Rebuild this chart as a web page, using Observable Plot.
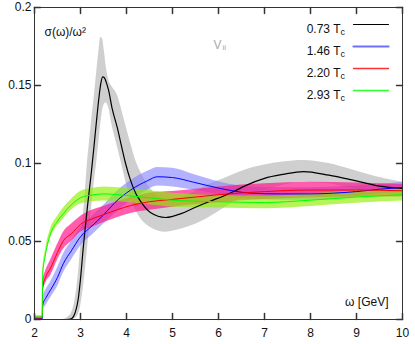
<!DOCTYPE html>
<html><head><meta charset="utf-8">
<script src="https://cdn.jsdelivr.net/npm/d3@7"></script>
<script src="https://cdn.jsdelivr.net/npm/@observablehq/plot@0.6"></script>
<style>
body{margin:0;background:#fff;}
#chart svg{display:block;font-family:"Liberation Sans",Arial,sans-serif;}
</style></head><body><div id="chart"></div>
<script>
// ---- tick values ----
const xTicks = [2, 3, 4, 5, 6, 7, 8, 9, 10];
const yTicks = [0, 0.05, 0.1, 0.15, 0.2];
const yTickLabels = ["0", "0.05", "0.1", "0.15", "0.2"];

// ---- series ----
const seriesNames = ["0.73", "1.46", "2.20", "2.93"];

// 0.73 Tc (black, gray band)
const x0 = [2.0, 2.6, 2.7, 2.8, 2.85, 2.9, 2.95, 3.0, 3.06, 3.1, 3.15, 3.2, 3.24, 3.3, 3.35, 3.4, 3.44, 3.48, 3.52, 3.56, 3.61, 3.69, 3.8, 3.9, 3.98, 4.09, 4.2, 4.3, 4.52, 4.85, 5.2, 5.5, 5.83, 6.1, 6.33, 6.6, 7.0, 7.4, 7.85, 8.4, 8.9, 9.5, 10];
const y0 = [0, 0, 0, 0.0005, 0.002, 0.006, 0.013, 0.026, 0.046, 0.058, 0.072, 0.085, 0.0955, 0.113, 0.128, 0.142, 0.151, 0.1555, 0.155, 0.152, 0.147, 0.135, 0.123, 0.110, 0.100, 0.089, 0.081, 0.076, 0.0686, 0.0654, 0.068, 0.072, 0.076, 0.079, 0.082, 0.086, 0.0905, 0.093, 0.0948, 0.0925, 0.0895, 0.0855, 0.084];
const hi0 = [0, 0, 0.001, 0.004, 0.008, 0.016, 0.028, 0.045, 0.066, 0.08, 0.1, 0.115, 0.127, 0.143, 0.158, 0.172, 0.181, 0.18, 0.172, 0.162, 0.154, 0.149, 0.144, 0.134, 0.125, 0.113, 0.102, 0.095, 0.084, 0.077, 0.078, 0.082, 0.087, 0.09, 0.093, 0.096, 0.099, 0.101, 0.102, 0.1, 0.096, 0.091, 0.088];
const lo0 = [0, 0, 0, 0, 0.0003, 0.001, 0.003, 0.008, 0.02, 0.03, 0.045, 0.06, 0.071, 0.088, 0.1, 0.114, 0.125, 0.134, 0.138, 0.139, 0.136, 0.124, 0.111, 0.099, 0.089, 0.078, 0.07, 0.065, 0.059, 0.056, 0.058, 0.061, 0.066, 0.071, 0.075, 0.079, 0.083, 0.086, 0.088, 0.087, 0.084, 0.081, 0.081];

// 1.46 Tc (blue)
const x1 = [2.0, 2.17, 2.175, 2.25, 2.35, 2.5, 2.63, 2.8, 3.0, 3.25, 3.5, 3.75, 4.09, 4.46, 4.67, 5.0, 5.46, 6.04, 6.7, 7.35, 8.0, 8.5, 9.0, 9.5, 10];
const y1 = [0.0005, 0.0005, 0.009, 0.014, 0.019, 0.027, 0.036, 0.044, 0.053, 0.060, 0.067, 0.075, 0.083, 0.089, 0.0915, 0.091, 0.088, 0.084, 0.081, 0.0805, 0.0805, 0.081, 0.082, 0.0835, 0.0846];
const hi1 = [0.0015, 0.0015, 0.013, 0.019, 0.024, 0.033, 0.042, 0.05, 0.059, 0.066, 0.073, 0.081, 0.089, 0.095, 0.0975, 0.097, 0.093, 0.088, 0.085, 0.0845, 0.0845, 0.085, 0.0855, 0.0865, 0.088];
const lo1 = [0, 0, 0.005, 0.009, 0.014, 0.021, 0.03, 0.038, 0.047, 0.054, 0.061, 0.068, 0.076, 0.083, 0.0855, 0.085, 0.083, 0.08, 0.077, 0.0765, 0.0765, 0.077, 0.0785, 0.0805, 0.0815];

// 2.20 Tc (red)
const x2 = [2.0, 2.17, 2.175, 2.24, 2.35, 2.5, 2.63, 2.8, 3.0, 3.25, 3.5, 4.09, 4.5, 5.0, 5.5, 6.0, 7.0, 8.0, 9.0, 10];
const y2 = [0.001, 0.001, 0.02, 0.027, 0.033, 0.043, 0.0506, 0.055, 0.061, 0.0645, 0.0672, 0.073, 0.0755, 0.077, 0.0785, 0.080, 0.082, 0.083, 0.083, 0.0825];
const hi2 = [0.002, 0.002, 0.024, 0.031, 0.038, 0.048, 0.056, 0.061, 0.066, 0.07, 0.0725, 0.078, 0.081, 0.082, 0.0835, 0.085, 0.087, 0.088, 0.0875, 0.0865];
const lo2 = [0, 0, 0.016, 0.023, 0.028, 0.038, 0.045, 0.05, 0.056, 0.059, 0.062, 0.068, 0.070, 0.072, 0.0735, 0.075, 0.077, 0.078, 0.0785, 0.0785];

// 2.93 Tc (green)
const x3 = [2.0, 2.17, 2.175, 2.24, 2.35, 2.5, 2.63, 2.8, 3.0, 3.25, 3.5, 4.0, 4.5, 5.0, 6.0, 7.0, 8.0, 9.0, 10];
const y3 = [0.0015, 0.0015, 0.028, 0.042, 0.055, 0.063, 0.068, 0.0735, 0.078, 0.0798, 0.0805, 0.0795, 0.078, 0.0765, 0.0755, 0.075, 0.0765, 0.0785, 0.080];
const hi3 = [0.0025, 0.0025, 0.031, 0.045, 0.058, 0.066, 0.0715, 0.077, 0.082, 0.084, 0.085, 0.084, 0.0825, 0.081, 0.0795, 0.079, 0.0805, 0.0825, 0.084];
const lo3 = [0.0005, 0.0005, 0.025, 0.039, 0.052, 0.06, 0.0645, 0.07, 0.074, 0.0755, 0.076, 0.075, 0.0735, 0.072, 0.0715, 0.071, 0.0725, 0.0745, 0.076];

// ---- styles ----
const lineColors = ["#000000", "#0000ff", "#ff0000", "#00ff00"];
const bandColors = ["#cfcfcf", "#7f7fff", "#ff1a8c", "#8ef000"];
const bandOpacity = [1, 0.6, 0.7, 0.65];
const legendColors = ["#000000", "#7070ff", "#ff3030", "#30ff30"];
const legendWidths = [1.2, 2.2, 1.3, 1.3];

const toRows = (xs, ys, los, his) => xs.map((x, i) => ({x, y: ys[i], lo: los[i], hi: his[i]}));
const series = [
  toRows(x0, y0, lo0, hi0),
  toRows(x1, y1, lo1, hi1),
  toRows(x2, y2, lo2, hi2),
  toRows(x3, y3, lo3, hi3)
];

const font = "Liberation Sans, Arial, sans-serif";
const segShape = {draw(ctx, l) { ctx.moveTo(0, 0); ctx.lineTo(0, -l); }};
const axisColor = "#333";

const marks = [];
series.forEach((rows, i) => {
  marks.push(Plot.areaY(rows, {x: "x", y1: "lo", y2: "hi", fill: bandColors[i], fillOpacity: bandOpacity[i], curve: "monotone-x"}));
});
series.forEach((rows, i) => {
  marks.push(Plot.lineY(rows, {x: "x", y: "y", stroke: lineColors[i], strokeWidth: i === 0 ? 1.2 : 1, curve: "monotone-x"}));
});

// frame & axes
marks.push(Plot.frame({stroke: axisColor, strokeWidth: 1}));
marks.push(Plot.axisX(xTicks, {anchor: "bottom", tickSize: 0, tickPadding: 9, label: null, fontSize: 12, tickFormat: d => String(d)}));
marks.push(Plot.axisY(yTicks, {anchor: "left", tickSize: 0, tickPadding: 3, label: null, fontSize: 12, tickFormat: d => yTickLabels[yTicks.indexOf(d)]}));
// inward tick marks on all four sides
marks.push(Plot.vector(xTicks, {x: d => d, frameAnchor: "bottom", length: 6, rotate: 0, anchor: "start", shape: segShape, stroke: axisColor}));
marks.push(Plot.vector(xTicks, {x: d => d, frameAnchor: "top", length: 6, rotate: 180, anchor: "start", shape: segShape, stroke: axisColor}));
marks.push(Plot.vector(yTicks, {y: d => d, frameAnchor: "left", length: 6, rotate: 90, anchor: "start", shape: segShape, stroke: axisColor}));
marks.push(Plot.vector(yTicks, {y: d => d, frameAnchor: "right", length: 6, rotate: -90, anchor: "start", shape: segShape, stroke: axisColor}));

// legend
seriesNames.forEach((name, i) => {
  marks.push(Plot.text([name + " T"], {text: d => d, frameAnchor: "top-right", dx: -62, dy: 17 + 22 * i, textAnchor: "end", fontSize: 12, fill: "#111"}));
  marks.push(Plot.text(["c"], {text: d => d, frameAnchor: "top-right", dx: -62, dy: 21.5 + 22 * i, textAnchor: "start", fontSize: 9, fill: "#111"}));
  marks.push(Plot.vector([name], {frameAnchor: "top-right", dx: -49, dy: 17 + 22 * i, length: 35, rotate: 90, anchor: "start", shape: segShape, stroke: legendColors[i], strokeWidth: legendWidths[i]}));
});

// labels
marks.push(Plot.text(["σ(ω)/ω²"], {text: d => d, frameAnchor: "top-left", dx: 10, dy: 20, textAnchor: "start", fontSize: 12, fill: "#111"}));
marks.push(Plot.text(["V"], {text: d => d, frameAnchor: "top-left", dx: 179, dy: 33, textAnchor: "start", fontSize: 12, fill: "#aaa"}));
marks.push(Plot.text(["ii"], {text: d => d, frameAnchor: "top-left", dx: 188, dy: 37, textAnchor: "start", fontSize: 8, fill: "#aaa"}));
marks.push(Plot.text(["ω [GeV]"], {text: d => d, frameAnchor: "bottom-right", dx: -14, dy: -14, textAnchor: "end", fontSize: 12, fill: "#111"}));

const chart = Plot.plot({
  width: 415,
  height: 344,
  marginLeft: 34,
  marginRight: 13,
  marginTop: 7,
  marginBottom: 25,
  style: {fontFamily: font, fontSize: "12px", background: "#fff", color: "#111"},
  x: {domain: [2, 10], axis: null},
  y: {domain: [0, 0.2], axis: null},
  marks
});
document.getElementById("chart").appendChild(chart);
</script>
</body></html>
